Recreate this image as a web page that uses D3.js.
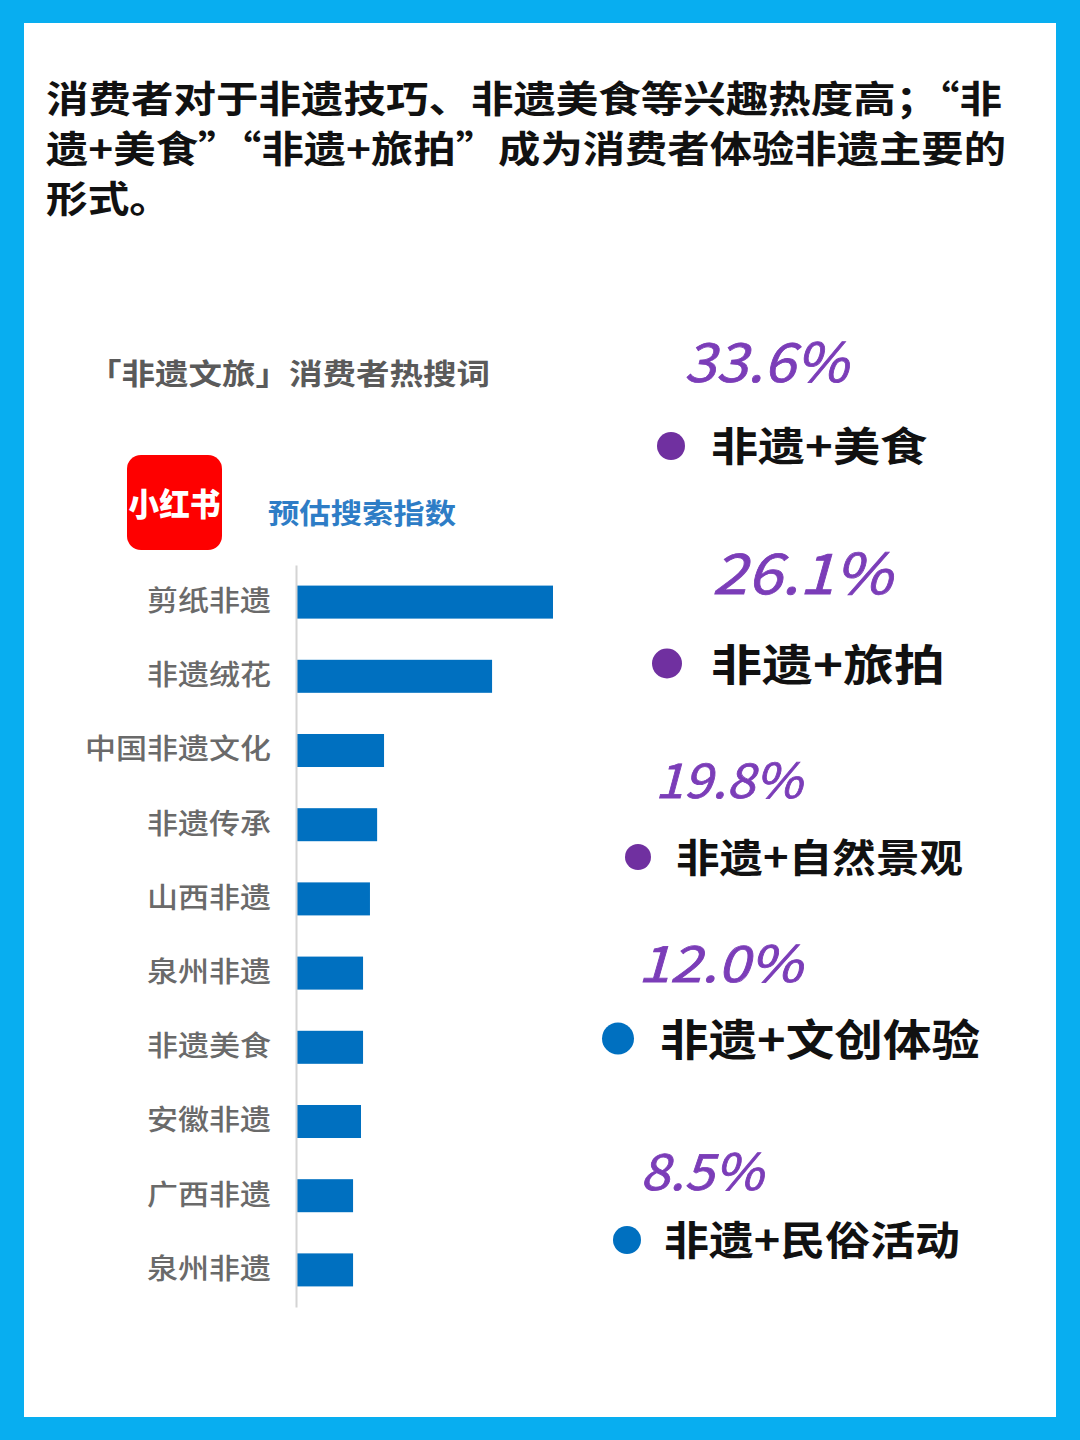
<!DOCTYPE html>
<html>
<head>
<meta charset="utf-8">
<script src="https://cdn.jsdelivr.net/npm/d3@7"></script>
<style>
  html, body { margin: 0; padding: 0; background: #fff; }
  svg { display: block; }
  text { font-family: "Noto Sans CJK SC", "Noto Sans", sans-serif; }
</style>
</head>
<body>
<div id="chart"></div>
<script>
// ---- data ----
const titleLines = [
  "消费者对于非遗技巧、非遗美食等兴趣热度高；“非",
  "遗+美食”“非遗+旅拍”成为消费者体验非遗主要的",
  "形式。"
];
const chartTitle = "「非遗文旅」消费者热搜词";
const platformName = "小红书";
const metricName = "预估搜索指数";

// hot search words and their (relative) estimated search index
const keywords = ["剪纸非遗", "非遗绒花", "中国非遗文化", "非遗传承", "山西非遗",
                  "泉州非遗", "非遗美食", "安徽非遗", "广西非遗", "泉州非遗"];
const searchIndex = [100, 76.2, 34, 31.3, 28.5, 25.8, 25.8, 25, 21.9, 21.9];

// main ways consumers experience intangible heritage
const shareLabels = ["非遗+美食", "非遗+旅拍", "非遗+自然景观", "非遗+文创体验", "非遗+民俗活动"];
const shareValues = [33.6, 26.1, 19.8, 12.0, 8.5];

// ---- layout ----
const width = 1080, height = 1440;
const border = { x: 24, y: 23 };

// collage placement of the share items (the source is hand-placed)
const shareLayout = [
  { nudge: 0,   dotX: 671, r: 14, pctX: 684, pctW: 164, pctSize: 54, pctDy: -88, txtX: 711, txtW: 216, txtSize: 40 },
  { nudge: 19,  dotX: 667, r: 15, pctX: 712, pctW: 180, pctSize: 56, pctDy: -94, txtX: 711, txtW: 234, txtSize: 43 },
  { nudge: 14,  dotX: 638, r: 13, pctX: 655, pctW: 147, pctSize: 48, pctDy: -80, txtX: 676, txtW: 287, txtSize: 39 },
  { nudge: -3,  dotX: 618, r: 16, pctX: 638, pctW: 164, pctSize: 50, pctDy: -79, txtX: 660, txtW: 320, txtSize: 43 },
  { nudge: 0,   dotX: 627, r: 14, pctX: 640, pctW: 123, pctSize: 50, pctDy: -72, txtX: 664, txtW: 296, txtSize: 40 }
];

const svg = d3.select("#chart").append("svg")
  .attr("width", width)
  .attr("height", height);

// blue frame
svg.append("rect")
  .attr("width", width).attr("height", height)
  .attr("fill", "#08aef0");
svg.append("rect")
  .attr("x", border.x).attr("y", border.y)
  .attr("width", width - 2 * border.x).attr("height", height - 2 * border.y)
  .attr("fill", "#fff");

// headline
const titleWidths = [956, 960, 125];
svg.append("g").selectAll("text")
  .data(titleLines)
  .join("text")
  .attr("x", 46)
  .attr("y", (d, i) => 97 + i * 50)
  .attr("dominant-baseline", "central")
  .attr("font-size", 37)
  .attr("font-weight", 700)
  .attr("fill", "#111")
  .attr("textLength", (d, i) => titleWidths[i])
  .attr("lengthAdjust", "spacingAndGlyphs")
  .text(d => d);

// chart heading
svg.append("text")
  .attr("x", 88).attr("y", 372)
  .attr("dominant-baseline", "central")
  .attr("font-size", 29)
  .attr("font-weight", 700)
  .attr("fill", "#5a5a5a")
  .attr("textLength", 402)
  .attr("lengthAdjust", "spacingAndGlyphs")
  .text(chartTitle);

// platform logo
const logo = svg.append("g").attr("transform", "translate(127,455)");
logo.append("rect")
  .attr("width", 95).attr("height", 95)
  .attr("rx", 14)
  .attr("fill", "#fe0000");
logo.append("text")
  .attr("x", 47.5).attr("y", 47)
  .attr("text-anchor", "middle")
  .attr("dominant-baseline", "central")
  .attr("font-size", 32)
  .attr("font-weight", 900)
  .attr("fill", "#fff")
  .attr("textLength", 92)
  .attr("lengthAdjust", "spacingAndGlyphs")
  .text(platformName);

svg.append("text")
  .attr("x", 268).attr("y", 512)
  .attr("dominant-baseline", "central")
  .attr("font-size", 28)
  .attr("font-weight", 700)
  .attr("fill", "#2e7dc6")
  .attr("textLength", 188)
  .attr("lengthAdjust", "spacingAndGlyphs")
  .text(metricName);

// ---- bar chart ----
const x = d3.scaleLinear()
  .domain([0, d3.max(searchIndex)])
  .range([297, 553]);

const y = d3.scaleBand()
  .domain(d3.range(keywords.length))
  .range([565, 1307])
  .paddingInner(0.555)
  .paddingOuter(0.2775);

svg.append("g")
  .selectAll("rect")
  .data(searchIndex)
  .join("rect")
  .attr("x", x(0))
  .attr("y", (d, i) => y(i))
  .attr("width", d => x(d) - x(0))
  .attr("height", y.bandwidth())
  .attr("fill", "#0070c0");

const yAxis = svg.append("g")
  .attr("transform", "translate(296,0)")
  .call(d3.axisLeft(y)
    .tickSize(0)
    .tickPadding(25)
    .tickFormat(i => keywords[i]));

yAxis.select(".domain")
  .attr("stroke", "#d4d4d4")
  .attr("stroke-width", 2);

yAxis.selectAll(".tick text")
  .attr("font-family", "'Noto Sans CJK SC', sans-serif")
  .attr("font-size", 28)
  .attr("font-weight", 500)
  .attr("fill", "#6a6a6a")
  .attr("dy", "0.32em")
  .attr("textLength", i => keywords[i].length * 31)
  .attr("lengthAdjust", "spacingAndGlyphs");

// ---- share items ----
const itemY = d3.scalePoint()
  .domain(shareLabels)
  .range([446, 1240]);

const color = d3.scaleThreshold()
  .domain([15])
  .range(["#0070c0", "#7030a0"]);

const items = svg.append("g")
  .selectAll("g")
  .data(shareLabels.map((label, i) => ({ label, value: shareValues[i], lay: shareLayout[i] })))
  .join("g")
  .attr("transform", d => `translate(0,${itemY(d.label) + d.lay.nudge})`);

items.append("text")
  .attr("x", d => d.lay.pctX)
  .attr("y", d => d.lay.pctDy)
  .attr("dominant-baseline", "central")
  .attr("font-family", "'Liberation Sans', Arial, sans-serif")
  .attr("font-style", "italic")
  .attr("font-size", d => d.lay.pctSize)
  .attr("fill", "#7b3db8")
  .attr("stroke", "#7b3db8")
  .attr("stroke-width", 0.8)
  .attr("textLength", d => d.lay.pctW)
  .attr("lengthAdjust", "spacingAndGlyphs")
  .text(d => d.value.toFixed(1) + "%");

items.append("circle")
  .attr("cx", d => d.lay.dotX)
  .attr("cy", 0)
  .attr("r", d => d.lay.r)
  .attr("fill", d => color(d.value));

items.append("text")
  .attr("x", d => d.lay.txtX)
  .attr("y", -2)
  .attr("dominant-baseline", "central")
  .attr("font-size", d => d.lay.txtSize)
  .attr("font-weight", 700)
  .attr("fill", "#111")
  .attr("textLength", d => d.lay.txtW)
  .attr("lengthAdjust", "spacingAndGlyphs")
  .text(d => d.label);
</script>
</body>
</html>
